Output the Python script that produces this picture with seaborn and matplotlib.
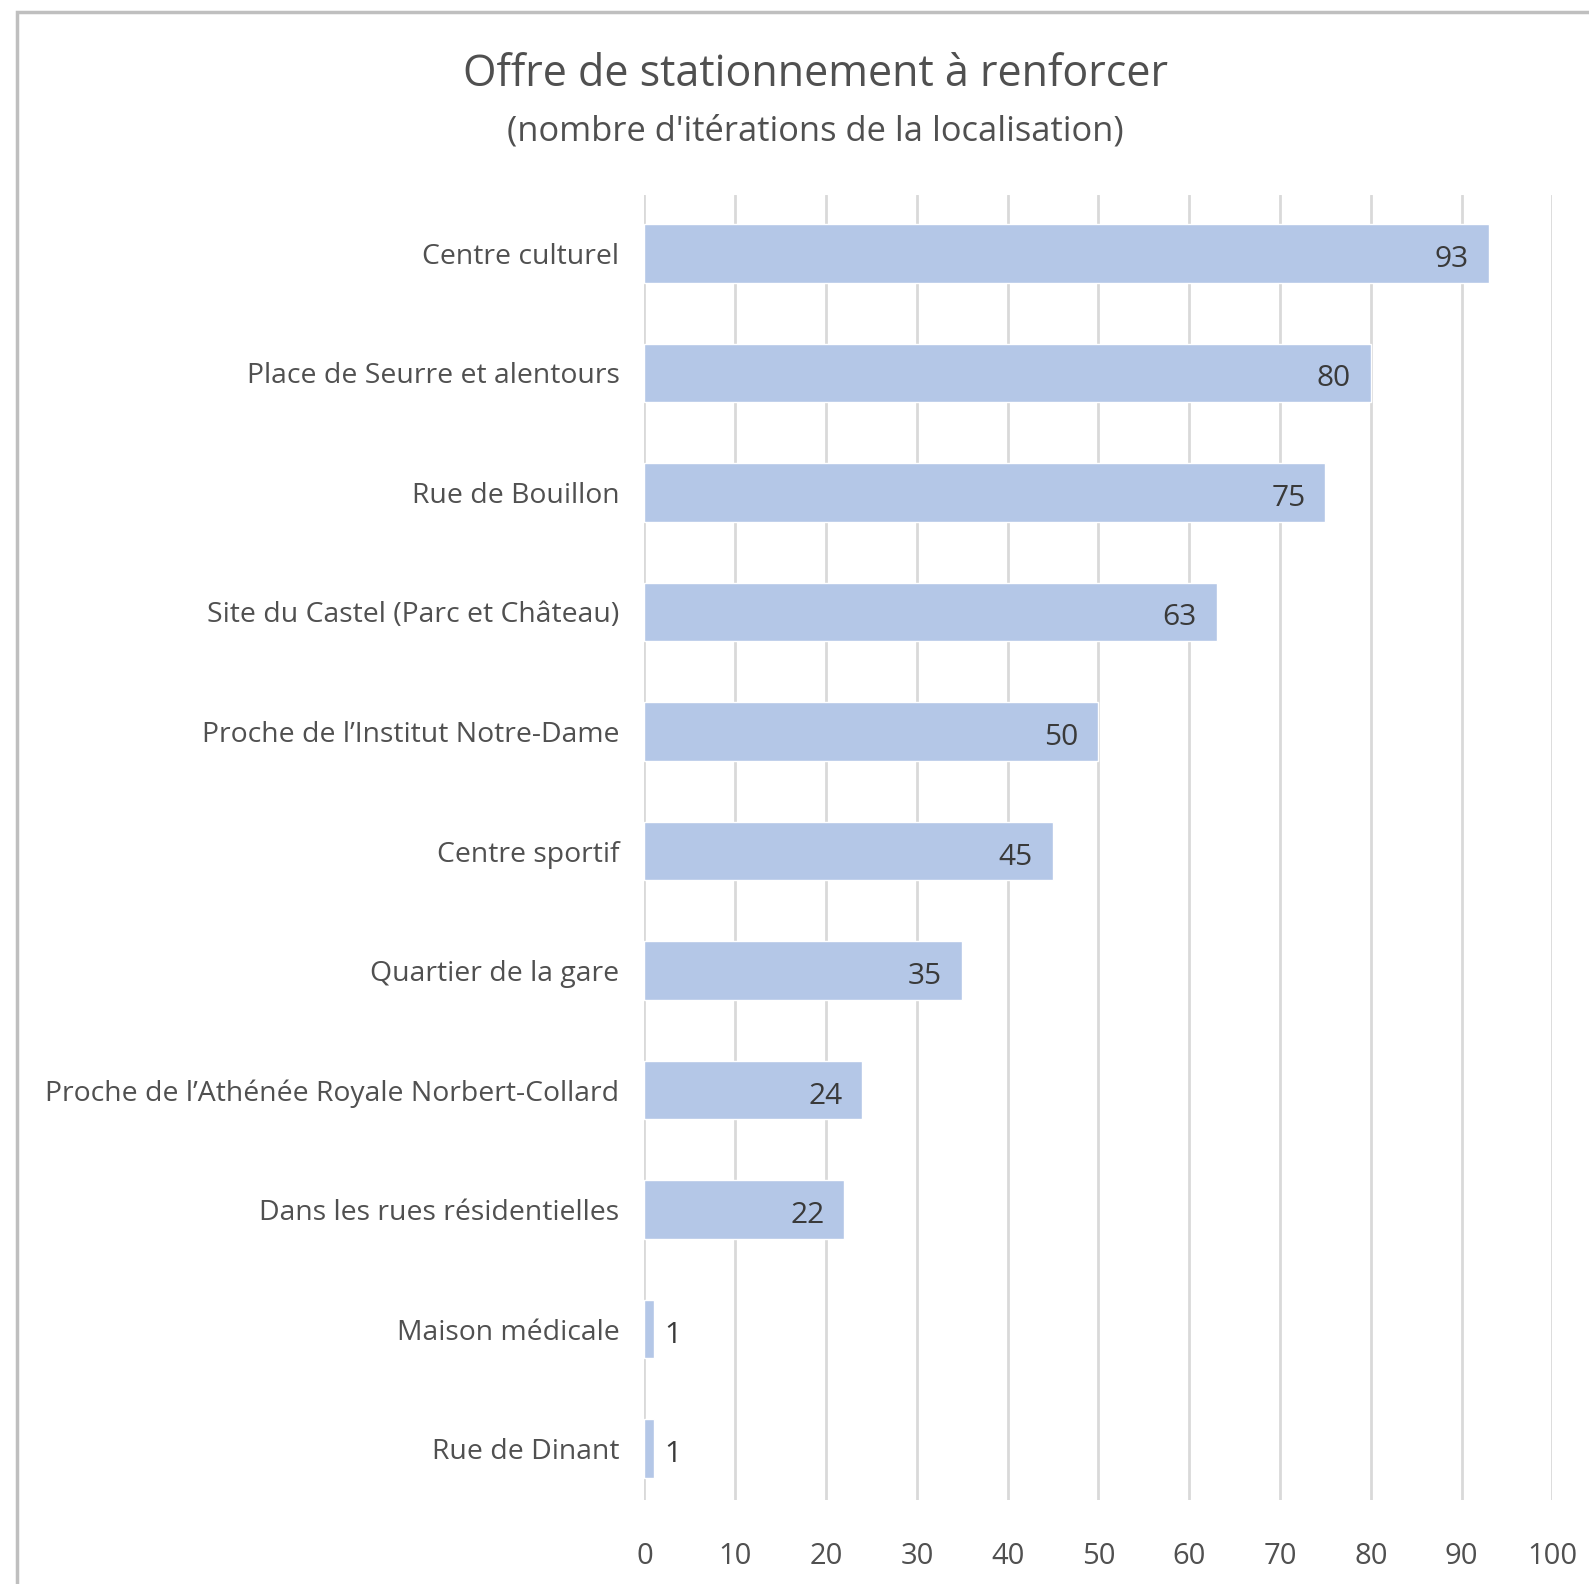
import matplotlib.pyplot as plt
import seaborn as sns
import pandas as pd
from matplotlib.patches import Rectangle

categories = [
    "Centre culturel",
    "Place de Seurre et alentours",
    "Rue de Bouillon",
    "Site du Castel (Parc et Château)",
    "Proche de l\u2019Institut Notre-Dame",
    "Centre sportif",
    "Quartier de la gare",
    "Proche de l\u2019Athénée Royale Norbert-Collard",
    "Dans les rues résidentielles",
    "Maison médicale",
    "Rue de Dinant",
]
values = [93, 80, 75, 63, 50, 45, 35, 24, 22, 1, 1]
x_ticks = [0, 10, 20, 30, 40, 50, 60, 70, 80, 90, 100]

df = pd.DataFrame({"lieu": categories, "n": values})

sns.set_style("white")
plt.rcParams["font.family"] = ["Open Sans", "DejaVu Sans"]

fig = plt.figure(figsize=(15.89, 15.84), dpi=100)
# outer chart frame
fig.patches.append(Rectangle((17 / 1589, -0.1), 1.2, 1 - 12 / 1584 + 0.1,
                             transform=fig.transFigure, fill=False,
                             edgecolor="#BFBFBF", linewidth=2.5))

ax = fig.add_axes([0.4056, 0.053, 0.5714, 0.824])
sns.barplot(data=df, x="n", y="lieu", orient="h", color="#B4C7E7",
            saturation=1, width=0.49, ax=ax)

ax.set_xlim(0, 100)
ax.set_ylim(10.43, -0.49)
ax.set_xticks(x_ticks)
ax.set_xlabel("")
ax.set_ylabel("")
ax.grid(axis="x", color="#D9D9D9", linewidth=2)
ax.set_axisbelow(True)
for s in ax.spines.values():
    s.set_visible(False)
ax.tick_params(axis="x", length=0, pad=30, labelsize=21, labelcolor="#505050")
ax.tick_params(axis="y", length=0, pad=18, labelsize=20.4, labelcolor="#505050")

for i, v in enumerate(values):
    if v >= 5:
        ax.text(v - 2.2, i + 0.05, str(v), ha="right", va="center",
                fontsize=21.5, color="#3A3A3A")
    else:
        ax.text(v + 1.2, i + 0.05, str(v), ha="left", va="center",
                fontsize=21.5, color="#3A3A3A")

fig.text(0.513, 0.953, "Offre de stationnement à renforcer", ha="center",
         va="center", fontsize=31, color="#505050")
fig.text(0.513, 0.917, "(nombre d'itérations de la localisation)", ha="center",
         va="center", fontsize=24.8, color="#505050")

fig.savefig("out.png", dpi=100, facecolor="white")
